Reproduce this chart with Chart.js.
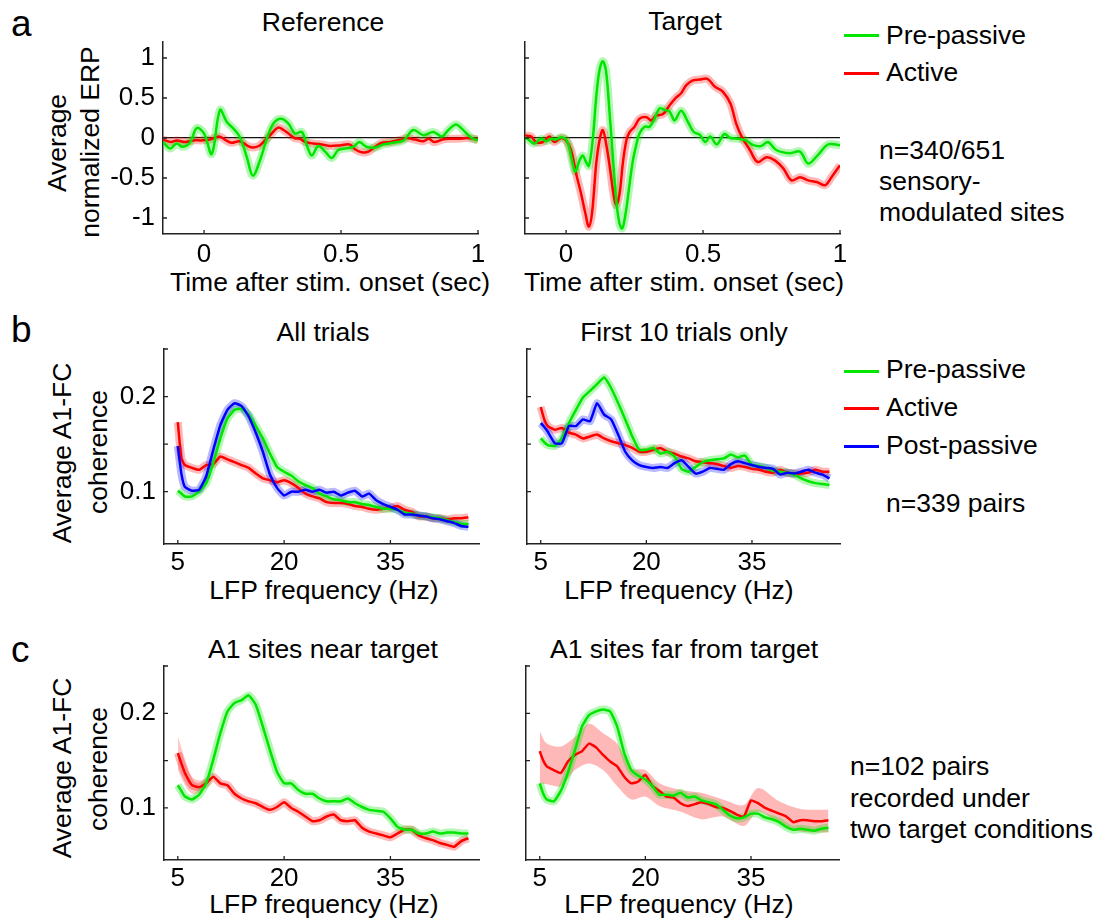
<!DOCTYPE html>
<html>
<head>
<meta charset="utf-8">
<script src="https://cdn.jsdelivr.net/npm/chart.js@4.4.0/dist/chart.umd.min.js"></script>
<style>
  body { margin: 0; background: #fff; }
  #fig { position: relative; width: 1101px; height: 922px; font-family: 'Liberation Sans', Arial, sans-serif; color: #000; overflow: hidden; }
  #fig canvas { position: absolute; }
  .t { position: absolute; font-size: 26.5px; line-height: 1; white-space: nowrap; }
  .ctr { transform: translateX(-50%); }
  .rot { transform: translate(-50%, -50%) rotate(-90deg); }
  .lbl { position: absolute; font-size: 37px; line-height: 1; }
  .key { position: absolute; width: 35px; height: 3px; }
</style>
</head>
<body>
<div id="fig">
  <!-- panel letters -->
  <div class="lbl" style="left:11px; top:5px;">a</div>
  <div class="lbl" style="left:11px; top:311px;">b</div>
  <div class="lbl" style="left:11px; top:631px;">c</div>

  <!-- titles -->
  <div class="t ctr" style="left:323px; top:9px;">Reference</div>
  <div class="t ctr" style="left:685px; top:8px;">Target</div>
  <div class="t ctr" style="left:323px; top:319px;">All trials</div>
  <div class="t ctr" style="left:684px; top:319px;">First 10 trials only</div>
  <div class="t ctr" style="left:323px; top:636px;">A1 sites near target</div>
  <div class="t ctr" style="left:684px; top:636px;">A1 sites far from target</div>

  <!-- x axis titles -->
  <div class="t ctr" style="left:330px; top:269px;">Time after stim. onset (sec)</div>
  <div class="t ctr" style="left:684px; top:269px;">Time after stim. onset (sec)</div>
  <div class="t ctr" style="left:324px; top:577px;">LFP frequency (Hz)</div>
  <div class="t ctr" style="left:679px; top:577px;">LFP frequency (Hz)</div>
  <div class="t ctr" style="left:324px; top:891px;">LFP frequency (Hz)</div>
  <div class="t ctr" style="left:679px; top:891px;">LFP frequency (Hz)</div>

  <!-- y axis titles -->
  <div class="t rot" style="left:57px; top:143px;">Average</div>
  <div class="t rot" style="left:90px; top:142px;">normalized ERP</div>
  <div class="t rot" style="left:62px; top:453px;">Average A1-FC</div>
  <div class="t rot" style="left:98px; top:452px;">coherence</div>
  <div class="t rot" style="left:62px; top:768px;">Average A1-FC</div>
  <div class="t rot" style="left:98px; top:769px;">coherence</div>

  <!-- legend a -->
  <div class="key" style="left:844px; top:34px; background:rgb(0,230,0);"></div>
  <div class="t" style="left:886px; top:22px;">Pre-passive</div>
  <div class="key" style="left:844px; top:72px; background:rgb(255,0,0);"></div>
  <div class="t" style="left:886px; top:59px;">Active</div>

  <!-- legend b -->
  <div class="key" style="left:844px; top:370px; background:rgb(0,230,0);"></div>
  <div class="t" style="left:886px; top:356px;">Pre-passive</div>
  <div class="key" style="left:844px; top:407px; background:rgb(255,0,0);"></div>
  <div class="t" style="left:886px; top:394px;">Active</div>
  <div class="key" style="left:844px; top:445px; background:rgb(0,0,255);"></div>
  <div class="t" style="left:886px; top:432px;">Post-passive</div>

  <!-- notes -->
  <div class="t" style="left:879px; top:135px; line-height:30.8px;">n=340/651<br>sensory-<br>modulated sites</div>
  <div class="t" style="left:886px; top:488px; line-height:30.8px;">n=339 pairs</div>
  <div class="t" style="left:850px; top:751px; line-height:31.7px;">n=102 pairs<br>recorded under<br>two target conditions</div>

  <canvas id="aL"></canvas>
  <canvas id="aR"></canvas>
  <canvas id="bL"></canvas>
  <canvas id="bR"></canvas>
  <canvas id="cL"></canvas>
  <canvas id="cR"></canvas>
</div>

<script>
// ---- panel a, Reference ----
let refGreenT = [-0.15,-0.124,-0.1,-0.078,-0.05,-0.027,0,0.028,0.058,0.083,0.107,0.131,0.156,0.178,0.204,0.229,0.253,0.281,0.308,0.332,0.357,0.375,0.393,0.417,0.442,0.466,0.49,0.52,0.545,0.567,0.593,0.624,0.655,0.69,0.728,0.764,0.8,0.837,0.868,0.892,0.92,0.953,0.977,1.0];
let refGreen  = [-0.05,-0.13,-0.07,-0.11,-0.05,0.125,0.055,-0.2,0.35,0.2,0.117,0.01,-0.24,-0.47,-0.28,-0.01,0.18,0.24,0.18,0.055,0.075,-0.09,-0.22,-0.1,-0.17,-0.25,-0.15,-0.13,-0.11,-0.05,-0.11,-0.12,-0.08,-0.06,-0.03,0.1,0.035,0.075,0.02,0.1,0.17,0.075,0.0,-0.03];
let refRedT = [-0.15,-0.12,-0.1,-0.07,-0.04,-0.01,0.02,0.055,0.08,0.1,0.13,0.16,0.178,0.2,0.22,0.245,0.27,0.29,0.31,0.33,0.35,0.37,0.4,0.43,0.46,0.5,0.53,0.555,0.58,0.6,0.62,0.65,0.68,0.72,0.74,0.77,0.8,0.82,0.84,0.87,0.9,0.93,0.96,1.0];
let refRed  = [-0.02,-0.05,-0.03,-0.05,-0.03,-0.03,-0.02,0.02,-0.03,-0.06,-0.04,-0.1,-0.12,-0.1,-0.04,0.05,0.13,0.1,0.05,0.0,-0.01,-0.05,-0.07,-0.08,-0.1,-0.09,-0.08,-0.15,-0.18,-0.17,-0.12,-0.06,-0.05,-0.02,0.0,-0.02,-0.04,-0.01,-0.05,-0.02,-0.01,-0.01,0.0,-0.02];

// ---- panel a, Target ----
let tgtGreenT = [-0.15,-0.134,-0.116,-0.092,-0.073,-0.055,-0.037,-0.018,0,0.012,0.024,0.034,0.049,0.061,0.073,0.083,0.097,0.11,0.122,0.134,0.146,0.158,0.17,0.183,0.195,0.205,0.217,0.232,0.244,0.256,0.268,0.287,0.305,0.323,0.341,0.36,0.378,0.396,0.42,0.445,0.466,0.488,0.509,0.526,0.55,0.578,0.6,0.628,0.656,0.684,0.712,0.737,0.767,0.817,0.854,0.884,0.92,0.957,1.0];
let tgtGreen  = [0.01,-0.03,-0.07,-0.01,-0.04,-0.01,-0.02,0.01,-0.02,-0.13,-0.32,-0.42,-0.28,-0.22,-0.3,-0.35,-0.03,0.51,0.85,0.96,0.83,0.35,-0.2,-0.78,-1.07,-1.13,-0.95,-0.57,-0.28,-0.09,0.055,0.14,0.14,0.24,0.37,0.35,0.33,0.22,0.34,0.2,0.075,0.04,-0.05,0.02,-0.08,0.05,0.0,-0.01,-0.03,-0.09,-0.1,-0.05,-0.15,-0.19,-0.17,-0.32,-0.21,-0.08,-0.09];
let tgtRedT = [-0.15,-0.128,-0.11,-0.085,-0.061,-0.043,-0.018,0,0.018,0.037,0.055,0.071,0.083,0.095,0.11,0.122,0.134,0.146,0.161,0.173,0.183,0.195,0.207,0.22,0.232,0.25,0.268,0.293,0.311,0.329,0.354,0.378,0.403,0.42,0.439,0.463,0.488,0.516,0.544,0.572,0.6,0.621,0.642,0.671,0.699,0.732,0.762,0.793,0.823,0.854,0.884,0.915,0.945,0.969,1.0];
let tgtRed  = [0.03,0.02,-0.05,-0.05,0.02,-0.05,0.0,-0.03,-0.15,-0.45,-0.7,-0.95,-1.11,-0.93,-0.32,-0.03,0.1,-0.07,-0.4,-0.7,-0.84,-0.7,-0.32,-0.03,0.075,0.14,0.24,0.26,0.22,0.28,0.3,0.41,0.51,0.56,0.66,0.72,0.73,0.74,0.64,0.58,0.43,0.18,0.01,-0.15,-0.3,-0.24,-0.28,-0.38,-0.53,-0.49,-0.53,-0.55,-0.59,-0.49,-0.34];

let timeTicks = [0, 0.5, 1];
let erpTicks  = [-1, -0.5, 0, 0.5, 1];

// ---- panels b and c: coherence vs LFP frequency ----
let freqs = [5,5.5,6,7,8,9,10,11,12,13,14,15,16,17,18,19,20,21,22,23,24,25,26,27,28,29,30,31,32,33,34,35,36,37,38,39,40,41,42,43,44,45,46];

let allGreen = [0.101,0.098,0.095,0.095,0.1,0.109,0.13,0.156,0.177,0.186,0.187,0.181,0.169,0.156,0.14,0.126,0.121,0.117,0.111,0.107,0.104,0.098,0.095,0.092,0.091,0.089,0.089,0.087,0.086,0.084,0.082,0.082,0.081,0.078,0.077,0.075,0.074,0.073,0.072,0.07,0.068,0.066,0.066];
let allRed   = [0.173,0.135,0.128,0.125,0.123,0.128,0.129,0.137,0.134,0.131,0.128,0.125,0.119,0.114,0.112,0.11,0.112,0.109,0.104,0.098,0.095,0.093,0.089,0.088,0.088,0.087,0.085,0.084,0.082,0.081,0.082,0.083,0.085,0.081,0.079,0.074,0.074,0.072,0.072,0.071,0.072,0.072,0.073];
let allBlue  = [0.148,0.119,0.105,0.101,0.102,0.116,0.144,0.17,0.186,0.193,0.19,0.179,0.162,0.142,0.118,0.104,0.096,0.1,0.1,0.102,0.1,0.102,0.099,0.1,0.096,0.099,0.101,0.095,0.098,0.091,0.087,0.084,0.081,0.076,0.076,0.075,0.074,0.072,0.071,0.069,0.067,0.064,0.063];

let firstGreen = [0.156,0.152,0.149,0.148,0.156,0.172,0.186,0.199,0.206,0.213,0.22,0.209,0.193,0.176,0.158,0.144,0.144,0.146,0.14,0.142,0.137,0.124,0.121,0.126,0.131,0.133,0.134,0.135,0.139,0.136,0.138,0.128,0.127,0.125,0.122,0.121,0.12,0.118,0.114,0.111,0.109,0.108,0.107];
let firstRed   = [0.189,0.176,0.169,0.165,0.167,0.162,0.16,0.156,0.158,0.16,0.156,0.153,0.151,0.149,0.146,0.142,0.142,0.144,0.146,0.142,0.14,0.137,0.135,0.132,0.131,0.13,0.129,0.127,0.125,0.127,0.126,0.124,0.123,0.121,0.12,0.123,0.12,0.119,0.119,0.12,0.123,0.121,0.121];
let firstBlue  = [0.172,0.168,0.163,0.151,0.151,0.169,0.169,0.176,0.174,0.193,0.181,0.176,0.16,0.142,0.133,0.128,0.126,0.125,0.126,0.125,0.13,0.133,0.126,0.119,0.121,0.125,0.124,0.123,0.129,0.132,0.13,0.128,0.126,0.125,0.124,0.118,0.12,0.119,0.121,0.123,0.12,0.118,0.114];

let nearGreen = [0.124,0.118,0.112,0.109,0.114,0.126,0.151,0.179,0.202,0.211,0.214,0.219,0.209,0.186,0.161,0.138,0.126,0.126,0.119,0.115,0.115,0.11,0.107,0.107,0.107,0.11,0.105,0.101,0.098,0.097,0.096,0.089,0.08,0.077,0.077,0.073,0.073,0.075,0.073,0.074,0.074,0.073,0.073];
let nearRed   = [0.158,0.147,0.137,0.124,0.122,0.126,0.133,0.126,0.124,0.115,0.11,0.107,0.105,0.101,0.098,0.101,0.106,0.1,0.096,0.091,0.086,0.087,0.091,0.093,0.087,0.086,0.087,0.079,0.075,0.073,0.071,0.069,0.073,0.077,0.077,0.071,0.068,0.066,0.063,0.061,0.059,0.065,0.068];
let nearRedBandF  = [5,6,7,8,9];
let nearRedUpper  = [0.176,0.152,0.133,0.129,0.131];
let nearRedLower  = [0.14,0.124,0.115,0.116,0.121];

let farGreen = [0.126,0.115,0.109,0.107,0.118,0.137,0.161,0.186,0.198,0.202,0.204,0.202,0.186,0.158,0.14,0.134,0.13,0.123,0.114,0.114,0.113,0.116,0.111,0.112,0.108,0.106,0.104,0.098,0.092,0.089,0.09,0.094,0.094,0.09,0.088,0.085,0.08,0.077,0.078,0.077,0.076,0.078,0.079];
let farRed   = [0.16,0.15,0.144,0.14,0.137,0.149,0.156,0.16,0.168,0.164,0.156,0.149,0.144,0.133,0.126,0.128,0.135,0.123,0.118,0.112,0.111,0.105,0.102,0.104,0.106,0.104,0.101,0.1,0.097,0.093,0.091,0.108,0.105,0.1,0.097,0.094,0.091,0.085,0.087,0.087,0.086,0.086,0.087];
let farRedBandF = [5,6,8,10,12,14,16,18,20,22,25,28,31,34,36,39,42,46];
let farRedUpper = [0.181,0.168,0.165,0.175,0.189,0.179,0.168,0.142,0.14,0.126,0.119,0.116,0.109,0.103,0.121,0.107,0.099,0.098];
let farRedLower = [0.126,0.125,0.123,0.14,0.147,0.14,0.123,0.109,0.112,0.102,0.096,0.088,0.091,0.081,0.096,0.084,0.075,0.074];

let freqTicks = [5, 20, 35];
let cohTicks  = [0.1, 0.15, 0.2, 0.25];
let cohLabels = [0.1, 0.2];

// colours
let GREEN = 'rgb(0,230,0)', RED = 'rgb(255,0,0)', BLUE = 'rgb(0,0,255)';
let GREEN_H = 'rgba(0,230,0,0.3)', RED_H = 'rgba(255,0,0,0.28)', BLUE_H = 'rgba(0,0,255,0.28)';

Chart.defaults.font.family = "'Liberation Sans', Arial, sans-serif";
Chart.defaults.font.size = 26;
Chart.defaults.color = '#000';

function pts(xs, ys) {
  return xs.map((x, i) => ({ x: x, y: ys[i] }));
}
function line(xs, ys, color, order, tension) {
  return { data: pts(xs, ys), borderColor: color, borderWidth: 2.5, pointRadius: 0, fill: false, tension: tension, order: order };
}
function halo(xs, ys, color, tension) {
  return { data: pts(xs, ys), borderColor: color, borderWidth: 8, pointRadius: 0, fill: false, tension: tension, order: 10 };
}
function band(xs, up, lo, color) {
  return [
    { data: pts(xs, up), borderWidth: 0, borderColor: 'rgba(0,0,0,0)', backgroundColor: color, pointRadius: 0, fill: '+1', tension: 0.3, order: 20 },
    { data: pts(xs, lo), borderWidth: 0, borderColor: 'rgba(0,0,0,0)', pointRadius: 0, fill: false, tension: 0.3, order: 21 }
  ];
}

// MATLAB style ticks pointing into the plot
const inwardTicks = {
  id: 'inwardTicks',
  afterDatasetsDraw(chart) {
    const { ctx, chartArea: a, scales } = chart;
    ctx.save();
    ctx.strokeStyle = '#222';
    ctx.lineWidth = 1.3;
    ctx.beginPath();
    scales.x.ticks.forEach(t => {
      const px = scales.x.getPixelForValue(t.value);
      ctx.moveTo(px, a.bottom);
      ctx.lineTo(px, a.bottom - 4);
    });
    scales.y.ticks.forEach(t => {
      const py = scales.y.getPixelForValue(t.value);
      ctx.moveTo(a.left, py);
      ctx.lineTo(a.left + 4, py);
    });
    ctx.stroke();
    ctx.restore();
  }
};

function panel(id, box, p) {
  const cv = document.getElementById(id);
  cv.width = box.r - box.l + 90;
  cv.height = box.b - box.t + 57;
  cv.style.left = (box.l - 70) + 'px';
  cv.style.top = (box.t - 12) + 'px';

  new Chart(cv, {
    type: 'line',
    data: { datasets: p.datasets },
    options: {
      responsive: false,
      animation: false,
      events: [],
      layout: { padding: { left: 0, top: 12, right: 20, bottom: 0 } },
      plugins: { legend: { display: false }, tooltip: { enabled: false } },
      scales: {
        x: {
          type: 'linear', min: p.xMin, max: p.xMax,
          afterBuildTicks: s => { s.ticks = p.xTicks.map(v => ({ value: v })); },
          afterFit: s => { s.height = 45; s.paddingLeft = 0; s.paddingRight = 0; },
          ticks: { padding: p.xPad, maxRotation: 0, autoSkip: false, callback: v => String(v) },
          grid: { display: false, drawTicks: false },
          border: { display: true, color: '#222', width: 1.5 }
        },
        y: {
          type: 'linear', min: p.yMin, max: p.yMax,
          afterBuildTicks: s => { s.ticks = p.yTicks.map(v => ({ value: v })); },
          afterFit: s => { s.width = 70; s.paddingTop = 0; s.paddingBottom = 0; },
          ticks: { padding: 8, autoSkip: false, callback: v => (p.yShow.includes(v) ? String(v) : '') },
          grid: p.zero
            ? { display: true, drawOnChartArea: true, drawTicks: false, lineWidth: 1.3,
                color: c => (c.tick && c.tick.value === 0 ? '#111' : 'rgba(0,0,0,0)') }
            : { display: false, drawTicks: false },
          border: { display: true, color: '#222', width: 1.5 }
        }
      }
    },
    plugins: [inwardTicks]
  });
}

const aOpts = { xMin: -0.15, xMax: 1, yMin: -1.2, yMax: 1.2, xTicks: timeTicks, yTicks: erpTicks, xPad: 5, zero: true };
const fOpts = { xMin: 3.05, xMax: 47.5, yMin: 0.045, yMax: 0.25, xTicks: freqTicks, yTicks: cohTicks, xPad: 3.5, zero: false };

panel('aL', { l: 163, t: 42, r: 478, b: 234 }, Object.assign({}, aOpts, {
  yShow: erpTicks,
  datasets: [
    line(refGreenT, refGreen, GREEN, 1, 0.35),
    line(refRedT, refRed, RED, 2, 0.35),
    halo(refGreenT, refGreen, GREEN_H, 0.35),
    halo(refRedT, refRed, RED_H, 0.35)
  ]
}));

panel('aR', { l: 525, t: 42, r: 840, b: 234 }, Object.assign({}, aOpts, {
  yShow: [],
  datasets: [
    line(tgtGreenT, tgtGreen, GREEN, 1, 0.35),
    line(tgtRedT, tgtRed, RED, 2, 0.35),
    halo(tgtGreenT, tgtGreen, GREEN_H, 0.35),
    halo(tgtRedT, tgtRed, RED_H, 0.35)
  ]
}));

panel('bL', { l: 164, t: 349, r: 479, b: 544 }, Object.assign({}, fOpts, {
  yShow: cohLabels,
  datasets: [
    line(freqs, allBlue, BLUE, 1, 0.15),
    line(freqs, allGreen, GREEN, 2, 0.15),
    line(freqs, allRed, RED, 3, 0.15),
    halo(freqs, allBlue, BLUE_H, 0.15),
    halo(freqs, allGreen, GREEN_H, 0.15),
    halo(freqs, allRed, RED_H, 0.15)
  ]
}));

panel('bR', { l: 527, t: 349, r: 840, b: 544 }, Object.assign({}, fOpts, {
  yShow: [],
  datasets: [
    line(freqs, firstBlue, BLUE, 1, 0.15),
    line(freqs, firstGreen, GREEN, 2, 0.15),
    line(freqs, firstRed, RED, 3, 0.15),
    halo(freqs, firstBlue, BLUE_H, 0.15),
    halo(freqs, firstGreen, GREEN_H, 0.15),
    halo(freqs, firstRed, RED_H, 0.15)
  ]
}));

panel('cL', { l: 164, t: 666, r: 479, b: 860 }, Object.assign({}, fOpts, {
  yShow: cohLabels,
  datasets: [
    line(freqs, nearGreen, GREEN, 1, 0.15),
    line(freqs, nearRed, RED, 2, 0.15),
    halo(freqs, nearGreen, GREEN_H, 0.15),
    halo(freqs, nearRed, RED_H, 0.15)
  ].concat(band(nearRedBandF, nearRedUpper, nearRedLower, 'rgba(255,0,0,0.22)'))
}));

panel('cR', { l: 526, t: 666, r: 839, b: 860 }, Object.assign({}, fOpts, {
  yShow: [],
  datasets: [
    line(freqs, farGreen, GREEN, 1, 0.15),
    line(freqs, farRed, RED, 2, 0.15),
    halo(freqs, farGreen, GREEN_H, 0.15)
  ].concat(band(farRedBandF, farRedUpper, farRedLower, 'rgba(255,0,0,0.28)'))
}));
</script>
</body>
</html>
